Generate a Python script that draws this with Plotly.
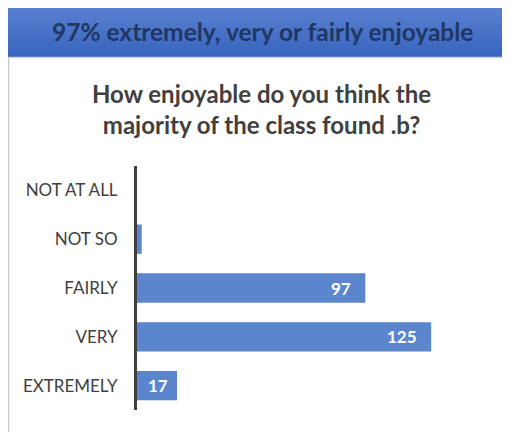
import plotly.graph_objects as go

categories = ["NOT AT ALL", "NOT SO", "FAIRLY", "VERY", "EXTREMELY"]
values = [0, 2, 97, 125, 17]
header_text = "97% extremely, very or fairly enjoyable"
title_text = "How enjoyable do you think the<br>majority of the class found .b?"

W, H = 502, 424
OFF = 8  # page body offset
def px(x):
    return (x - OFF) / W
def py(y):
    return 1 - (y - OFF) / H

FONT = "Lato, Open Sans, sans-serif"

fig = go.Figure()
fig.add_trace(go.Bar(
    y=categories, x=values, orientation="h",
    marker=dict(color="#5B85CC", line=dict(width=0)),
    hoverinfo="skip",
))

# value labels at the bar ends
annotations = []
for c, v in zip(categories, values):
    if v >= 10:
        annotations.append(dict(
            x=v, y=c, xref="x", yref="y", text=f"<b>{v}</b>", showarrow=False,
            xanchor="right", xshift=-12 if v >= 50 else -7,
            font=dict(family=FONT, size=17, color="white"),
        ))

# header gradient band
shapes = []
top_c = (0x5B, 0x81, 0xD1)
bot_c = (0x38, 0x64, 0xBE)
y0, y1 = 5, 57
n = 26
for i in range(n):
    t = i / (n - 1)
    col = tuple(round(a + (b - a) * t) for a, b in zip(top_c, bot_c))
    ya = y0 + (y1 - y0) * i / n
    yb = y0 + (y1 - y0) * (i + 1) / n + 0.6
    shapes.append(dict(type="rect", xref="paper", yref="paper",
                       x0=px(8), x1=px(520), y0=py(yb), y1=py(ya),
                       fillcolor="rgb(%d,%d,%d)" % col, line=dict(width=0), layer="below"))
# thin grey line under header and left border
shapes.append(dict(type="line", xref="paper", yref="paper", x0=px(8), x1=px(520),
                   y0=py(57.5), y1=py(57.5), line=dict(color="#D0D0D0", width=1.5)))
shapes.append(dict(type="line", xref="paper", yref="paper", x0=px(8.5), x1=px(8.5),
                   y0=py(57), y1=py(440), line=dict(color="#C8C8C8", width=1.5)))

annotations.append(dict(x=px(262), y=py(32), xref="paper", yref="paper",
                        text=f"<b>{header_text}</b>", showarrow=False,
                        xanchor="center", yanchor="middle",
                        font=dict(family=FONT, size=24.5, color="#1F3763")))
annotations.append(dict(x=px(261), y=py(109), xref="paper", yref="paper",
                        text=f"<b>{title_text}</b>", showarrow=False,
                        xanchor="center", yanchor="middle",
                        font=dict(family=FONT, size=24, color="#404040")))

fig.update_layout(
    width=W, height=H,
    margin=dict(l=0, r=0, t=0, b=0),
    paper_bgcolor="white", plot_bgcolor="white",
    showlegend=False,
    bargap=0.4,
    shapes=shapes,
    annotations=annotations,
    xaxis=dict(domain=[px(137), px(490)], range=[0, 150], visible=False, fixedrange=True),
    yaxis=dict(domain=[py(410), py(166)], categoryorder="array", categoryarray=categories[::-1],
               showline=True, linecolor="#404040", linewidth=3, showgrid=False,
               ticks="", ticklabelstandoff=13,
               tickfont=dict(family=FONT, size=17, color="#404040"),
               fixedrange=True),
)

fig.write_html("out.html")
